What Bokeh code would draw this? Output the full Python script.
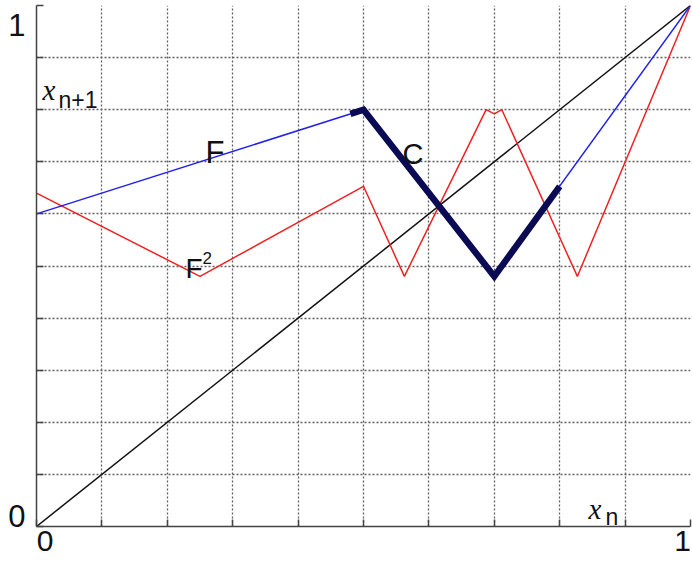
from bokeh.plotting import figure
from bokeh.models import Label, FixedTicker, LinearAxis, CustomLabelingPolicy
from bokeh.embed import file_html
from bokeh.resources import INLINE

# ---- data ----
GRID_TICKS = [0.0, 0.1, 0.2, 0.3, 0.4, 0.5, 0.6, 0.7, 0.8, 0.9, 1.0]
X_LABEL_POS = [0.013, 0.988]
X_TICK_LABELS = ["0", "1"]
Y_LABEL_POS = [0.0205, 0.9635]
Y_TICK_LABELS = ["0", "1"]

DIAG_X = [0.0, 1.0]
DIAG_Y = [0.0, 1.0]

F_X = [0.0, 0.5, 0.7, 1.0]
F_Y = [0.6, 0.8, 0.48, 1.0]

F2_X = [0.0, 0.25, 0.5, 0.5625, 0.6875, 0.7, 0.7115, 0.827, 1.0]
F2_Y = [0.64, 0.48, 0.653, 0.48, 0.8, 0.792, 0.8, 0.48, 1.0]

C_X = [0.48, 0.5, 0.7, 0.8]
C_Y = [0.792, 0.8, 0.48, 0.653]

SANS = "Liberation Sans"
SERIF = "Liberation Serif"
TXT = "#111111"
AXC = "#444444"

p = figure(width=692, height=564, x_range=(0, 1), y_range=(0, 1),
           output_backend="svg", toolbar_location=None, title=None,
           min_border_left=36, min_border_right=2, min_border_top=5,
           min_border_bottom=38)
p.outline_line_color = None
p.background_fill_color = "white"
p.border_fill_color = "white"

hide_all = CustomLabelingPolicy(code="""
    for (const i of indices)
        indices.unset(i)
    return indices
""")

for ax in (p.xaxis[0], p.yaxis[0]):
    ax.ticker = FixedTicker(ticks=GRID_TICKS)
    ax.major_tick_in = 7
    ax.major_tick_out = 0
    ax.minor_tick_line_color = None
    ax.major_tick_line_color = AXC
    ax.major_tick_line_width = 1.5
    ax.axis_line_color = AXC
    ax.axis_line_width = 1.5
    ax.major_label_policy = hide_all
    ax.major_label_standoff = 0
    ax.major_label_text_font_size = "1px"

# axes carrying only the "0" / "1" labels, at the spots where the reference shows them
xlab = LinearAxis(ticker=FixedTicker(ticks=X_LABEL_POS),
                  major_label_overrides={v: t for v, t in zip(X_LABEL_POS, X_TICK_LABELS)},
                  axis_line_color=None, major_tick_line_color=None,
                  minor_tick_line_color=None, major_tick_in=0, major_tick_out=0,
                  major_label_text_font=SANS, major_label_text_font_size="30px",
                  major_label_text_color=TXT, major_label_standoff=0)
ylab = LinearAxis(ticker=FixedTicker(ticks=Y_LABEL_POS),
                  major_label_overrides={v: t for v, t in zip(Y_LABEL_POS, Y_TICK_LABELS)},
                  axis_line_color=None, major_tick_line_color=None,
                  minor_tick_line_color=None, major_tick_in=0, major_tick_out=0,
                  major_label_text_font=SANS, major_label_text_font_size="31px",
                  major_label_text_color=TXT, major_label_standoff=7)
p.add_layout(xlab, "below")
p.add_layout(ylab, "left")

for g in (p.xgrid[0], p.ygrid[0]):
    g.ticker = FixedTicker(ticks=GRID_TICKS)
    g.grid_line_color = "#606060"
    g.grid_line_dash = "2 2"
    g.grid_line_width = 1.3

p.line(DIAG_X, DIAG_Y, line_color="#111111", line_width=1.5)
p.line(F2_X, F2_Y, line_color="#ee2222", line_width=1.5)
p.line(F_X, F_Y, line_color="#2222ee", line_width=1.5)
p.line(C_X, C_Y, line_color="#0a0a55", line_width=6.5, line_join="miter")

def lab(x, y, text, size, font=SANS, style="normal", align="left"):
    p.add_layout(Label(x=x, y=y, text=text, x_units="data", y_units="data",
                       text_font=font, text_font_size=size, text_font_style=style,
                       text_align=align, text_baseline="alphabetic",
                       text_color=TXT))

# axis names
lab(0.0092, 0.8369, "x", "29px", font=SERIF, style="italic")
lab(0.0336, 0.8177, "n+1", "23px")
lab(0.844, 0.0345, "x", "29px", font=SERIF, style="italic")
lab(0.870, 0.0173, "n", "23px")

# curve names
lab(0.2584, 0.7179, "F", "31px")
lab(0.5596, 0.7159, "C", "29px")
lab(0.2278, 0.4952, "F", "28px")
lab(0.2538, 0.5163, "2", "17px")

open("out.html", "w").write(file_html(p, INLINE))
